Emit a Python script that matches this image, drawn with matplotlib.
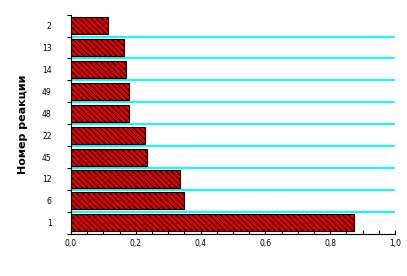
import matplotlib
matplotlib.use('Agg')
import matplotlib.pyplot as plt
import numpy as np

# номера реакций снизу вверх и значения
reakcii = ['1', '6', '12', '45', '22', '48', '49', '14', '13', '2']
znacheniya = [0.873, 0.350, 0.337, 0.236, 0.229, 0.180, 0.180, 0.170, 0.165, 0.115]
x_ticks = [0.0, 0.2, 0.4, 0.6, 0.8, 1.0]
x_labels = ['0,0', '0,2', '0,4', '0,6', '0,8', '1,0']

plt.rcParams['hatch.linewidth'] = 0.7
plt.rcParams['hatch.color'] = 'black'

fig = plt.figure(figsize=(4.07, 2.76), dpi=100)
ax = fig.add_axes([0.1744, 0.153, 0.796, 0.794])

pos = np.arange(len(reakcii))
ax.barh(pos, znacheniya, height=0.78, color='#e00000', edgecolor='black',
        linewidth=0.8, hatch='\\\\\\\\\\\\', zorder=3)

for k in range(len(reakcii) - 1):
    ax.axhline(k + 0.5, color='#00ffff', lw=1.4, zorder=1)

ax.set_xlim(0, 1.0)
ax.set_ylim(-0.5, len(reakcii) - 0.5)

ax.set_xticks(x_ticks)
ax.set_xticklabels(x_labels, fontsize=5.5)
ax.set_xticks(np.arange(0, 1.001, 0.05), minor=True)
ax.tick_params(axis='x', which='both', direction='in', length=3, width=0.8, pad=4)

ax.set_yticks(np.arange(-0.5, len(reakcii), 1.0))
ax.set_yticklabels([])
ax.set_yticks(pos, minor=True)
ax.set_yticklabels(reakcii, minor=True, fontsize=5.5)
ax.tick_params(axis='y', which='major', direction='out', length=3, width=0.8)
ax.tick_params(axis='y', which='minor', length=0, pad=14)

for s in ['top', 'right']:
    ax.spines[s].set_visible(False)
ax.spines['left'].set_linewidth(0.8)
ax.spines['bottom'].set_linewidth(0.8)

ax.set_ylabel('Номер реакции', fontsize=8, fontweight='bold', labelpad=10)

fig.savefig('out.png', dpi=100)
